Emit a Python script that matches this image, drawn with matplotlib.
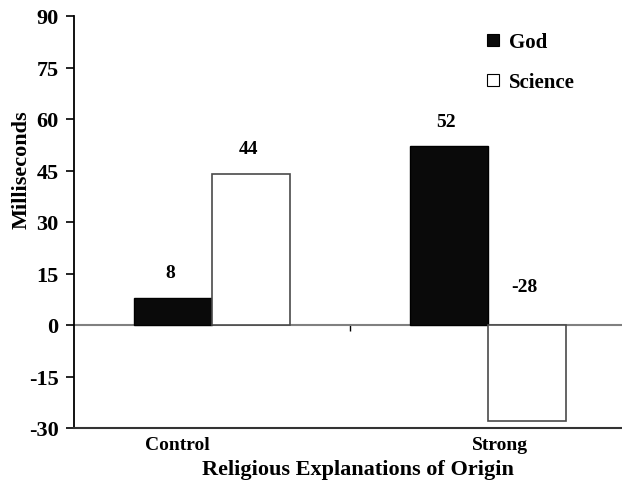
import matplotlib.pyplot as plt
from matplotlib.lines import Line2D
import numpy as np

# data
categories = ['Control', 'Strong']
god = [8, 52]
science = [44, -28]
yticks = [-30, -15, 0, 15, 30, 45, 60, 75, 90]

plt.rcParams['font.family'] = ['Liberation Serif', 'DejaVu Serif']
plt.rcParams['font.weight'] = 'bold'
plt.rcParams['axes.unicode_minus'] = False

fig = plt.figure(figsize=(6.22, 4.81), dpi=100)
# axes left at 74px, bottom at 429px, right edge runs a bit past the picture
ax = fig.add_axes([74 / 622, 52 / 481, 552 / 622, 412 / 481])

centers = np.arange(len(categories)) + 0.5
w = 0.283
ax.bar(centers - w / 2, god, w, color='#0a0a0a', edgecolor='#000000', linewidth=1.0, zorder=3)
ax.bar(centers + w / 2, science, w, color='white', edgecolor='#4a4a4a', linewidth=1.2, zorder=3)

# value labels
for x, v in zip(centers - w / 2, god):
    ax.annotate(str(v), (x, max(v, 0)), xytext=(-2, 18), textcoords='offset points',
                ha='center', va='center', fontsize=14, fontweight='bold')
for x, v in zip(centers + w / 2, science):
    off = 18 if v >= 0 else 28
    ax.annotate(str(v), (x, max(v, 0)), xytext=(-2, off), textcoords='offset points',
                ha='center', va='center', fontsize=14, fontweight='bold')

ax.set_xlim(0, 2)
ax.set_ylim(-30, 90)
ax.set_yticks(yticks)
ax.tick_params(axis='y', direction='out', length=6, width=1.2, pad=5, labelsize=16)

# category labels sit a little off the group centres, as in the original
ax.set_xticks([0.373, 1.543])
ax.set_xticklabels(categories, fontsize=14, fontweight='bold')
ax.tick_params(axis='x', length=0, pad=6)

for s in ['top', 'right']:
    ax.spines[s].set_visible(False)
ax.spines['left'].set_linewidth(1.3)
ax.spines['bottom'].set_linewidth(1.5)
ax.spines['bottom'].set_color('#333333')

# zero line with the category separator tick
zero = ax.secondary_xaxis(0.25)
zero.set_xticks([1])
zero.set_xticklabels([''])
zero.tick_params(direction='out', length=4, width=1.0, color='#000000')
zero.spines['bottom'].set_color('#808080')
zero.spines['bottom'].set_linewidth(1.5)

ax.set_ylabel('Milliseconds', fontsize=16, fontweight='bold')
ax.yaxis.set_label_coords(-0.076, 0.629)
ax.set_xlabel('Religious Explanations of Origin', fontsize=16, fontweight='bold')
ax.xaxis.label.set_va('baseline')
ax.xaxis.set_label_coords(0.514, -0.112)

handles = [Line2D([], [], ls='', marker='s', markersize=8, markerfacecolor='#0a0a0a',
                  markeredgecolor='black', markeredgewidth=0.8),
           Line2D([], [], ls='', marker='s', markersize=8, markerfacecolor='white',
                  markeredgecolor='black', markeredgewidth=0.8)]
ax.legend(handles, ['God', 'Science'], loc='upper left', bbox_to_anchor=(485 / 622, 1 - 33 / 481),
          bbox_transform=fig.transFigure, frameon=False, prop={'weight': 'bold', 'size': 15},
          handlelength=0.8, handletextpad=0.35, labelspacing=0.95, borderpad=0, borderaxespad=0)

fig.savefig('out.png', dpi=100)
